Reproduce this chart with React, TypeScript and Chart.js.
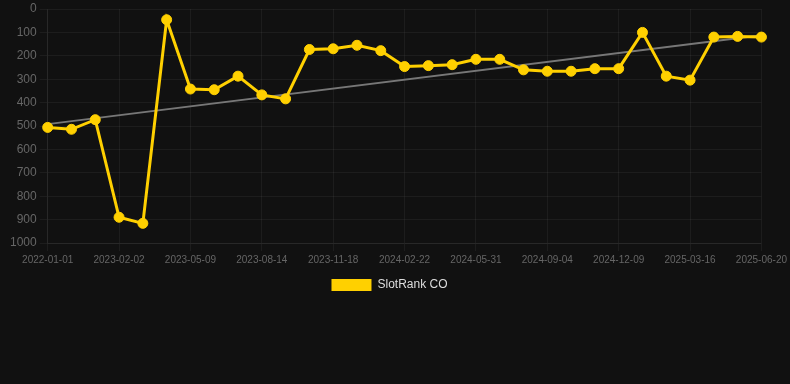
import React, { useEffect, useRef } from "react";
import { Chart, registerables } from "chart.js";

Chart.register(...registerables);

const labels: string[] = [
  "2022-01-01", "2022-12-01", "2023-01-02", "2023-02-02", "2023-03-06", "2023-04-07",
  "2023-05-09", "2023-06-10", "2023-07-13", "2023-08-14", "2023-09-16", "2023-10-18",
  "2023-11-18", "2023-12-20", "2024-01-21", "2024-02-22", "2024-03-25", "2024-04-28",
  "2024-05-31", "2024-07-02", "2024-08-03", "2024-09-04", "2024-10-06", "2024-11-07",
  "2024-12-09", "2025-01-10", "2025-02-12", "2025-03-16", "2025-04-18", "2025-05-20",
  "2025-06-20",
];

const rankValues: number[] = [
  506, 514, 473, 890, 916, 46, 342, 345, 287, 367, 384, 173, 170, 155, 178, 246,
  242, 238, 215, 215, 260, 266, 266, 255, 255, 100, 287, 304, 120, 117, 120,
];

const trendStart = 492;
const trendEnd = 112;
const trendValues: (number | null)[] = labels.map((_, i) =>
  i === 0 ? trendStart : i === labels.length - 1 ? trendEnd : null
);

const yTicks = { min: 0, max: 1000, step: 100 };

export default function App() {
  const ref = useRef<HTMLCanvasElement>(null);
  useEffect(() => {
    document.body.style.margin = "0";
    document.body.style.background = "#111111";
    const chart = new Chart(ref.current!, {
      type: "line",
      data: {
        labels,
        datasets: [
          {
            label: "SlotRank CO",
            data: rankValues,
            borderColor: "#FFD000",
            backgroundColor: "#FFD000",
            borderWidth: 3,
            pointRadius: 5,
            pointHoverRadius: 5,
            pointBackgroundColor: "#FFD000",
            pointBorderColor: "#FFD000",
            pointBorderWidth: 1,
            tension: 0,
            order: 1,
          },
          {
            label: "Trend",
            data: trendValues,
            borderColor: "#777777",
            backgroundColor: "#777777",
            borderWidth: 2,
            pointRadius: 0,
            spanGaps: true,
            order: 2,
          },
        ],
      },
      options: {
        animation: false,
        responsive: false,
        maintainAspectRatio: false,
        layout: { padding: { left: 7, right: 18, top: -2, bottom: 0 } },
        plugins: {
          legend: {
            position: "bottom",
            labels: {
              color: "#dddddd",
              font: { size: 12 },
              boxWidth: 40,
              boxHeight: 12,
              filter: (item) => item.text !== "Trend",
              generateLabels: (c) =>
                Chart.defaults.plugins.legend.labels
                  .generateLabels(c)
                  .map((it) => ({ ...it, lineWidth: 0 })),
            },
          },
          tooltip: { enabled: false },
        },
        scales: {
          x: {
            ticks: {
              color: "#666666",
              font: { size: 10 },
              maxRotation: 0,
              autoSkip: false,
              callback: (_v, i) => (i % 3 === 0 ? labels[i] : ""),
            },
            grid: {
              color: (ctx) => (ctx.index % 3 === 0 ? "rgba(255,255,255,0.05)" : "transparent"),
            },
            border: { color: "rgba(255,255,255,0.05)" },
          },
          y: {
            reverse: true,
            min: yTicks.min,
            max: yTicks.max,
            ticks: {
              stepSize: yTicks.step,
              color: "#666666",
              font: { size: 12, lineHeight: 1 },
              callback: (v) => String(v),
            },
            grid: { color: "rgba(255,255,255,0.05)" },
            border: { color: "rgba(255,255,255,0.05)" },
          },
        },
      },
    });
    return () => chart.destroy();
  }, []);
  return (
    <div style={{ width: 790, height: 384, background: "#111111" }}>
      <canvas ref={ref} width={790} height={301} style={{ display: "block" }} />
    </div>
  );
}
